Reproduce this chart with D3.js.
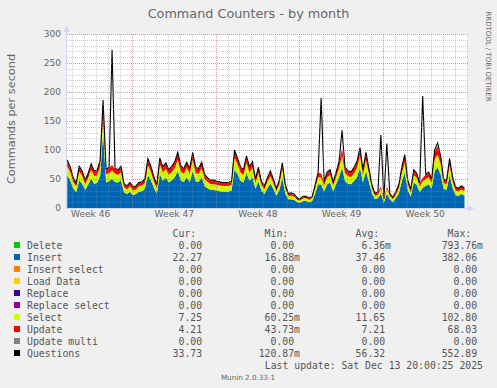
<!DOCTYPE html>
<html>
<head>
<meta charset="utf-8">
<title>Command Counters - by month</title>
<script src="https://cdn.jsdelivr.net/npm/d3@7"></script>
<style>
body { margin: 0; background: #f0f0f0; }
svg { display: block; }
text { font-family: "DejaVu Sans", sans-serif; fill: #666; }
.mono { font-family: "DejaVu Sans Mono", monospace; font-size: 9.8px; fill: #555; }
</style>
</head>
<body>
<svg id="chart" width="497" height="388"></svg>
<script>
// samples every 6 hours, starting Mon Nov 10 2025 14:00
var startTime = Date.UTC(2025, 10, 10, 14);
var stepHours = 6;

var questions = [83,71,52,43,72,64,48,60,76,64, 65,82,186,67,70,273,68,66,72,42,
  38,44,36,38,44,45,50,85,72,54, 40,86,71,78,66,72, 80,96,73,68,79,
  68,96,70,68,79,58,52,48,48,46, 45,44,44,44,46,100,86,71,66,90,
  71,80,50,70,46,38,52,64,50,34, 48,78,40,25,26,24,17,16,20,20,
  17,20,40,62,190,45,62,66,45,62, 80,134,70,64,62,70, 80,104,66,96,68,
  40,25,28,126,16,111,25,18,28,40, 70,92,48,32,66,60,43,193,58,62,
  50,100,112,90,50,48,85,54,36,34, 38,34];

var insertVals = [56,48,34,27,48,42,31,40,51,42, 43,55,130,44,46,50,45,44,48,27,
  24,28,22,24,28,29,33,57,48,35, 25,58,47,52,44,48, 53,64,48,45,53,
  45,64,46,45,53,38,34,31,31,30, 29,28,28,28,30,67,58,47,44,60,
  47,53,33,46,30,24,34,42,33,21, 31,52,25,15,15,14,10,9,12,12,
  10,12,25,41,40,29,41,44,29,41, 53,70,46,42,41,46, 53,70,44,64,45,
  25,15,17,25,9,25,15,10,17,25, 46,61,31,20,44,40,27,35,38,41,
  33,64,70,58,33,31,57,35,22,21, 24,21];

var selectVals = [16,14,11,10,15,13,10,12,15,13, 13,16,30,14,14,15,14,13,14,9,
  8,10,8,8,10,10,10,17,14,11, 9,17,14,16,13,14, 16,19,15,14,16,
  14,19,14,14,16,12,11,10,10,10, 10,10,10,10,10,20,17,14,13,18,
  14,16,10,14,10,8,11,13,10,8, 10,16,9,6,6,6,4,4,5,5,
  4,5,9,12,12,10,12,13,10,12, 16,20,14,13,12,14, 16,20,13,19,14,
  9,6,6,8,4,8,6,5,6,9, 14,18,10,7,13,12,10,11,12,12,
  10,20,22,18,10,10,17,11,8,8, 8,8];

var updateVals = [10,8,6,5,8,8,6,7,9,8, 8,10,20,8,9,9,8,8,9,5,
  5,5,5,5,5,5,6,10,9,7, 5,10,9,9,8,9, 10,12,9,8,9,
  8,12,9,8,9,7,6,6,6,5, 5,5,5,5,5,12,10,9,8,11,
  9,10,6,9,5,5,6,8,6,4, 6,9,5,3,3,3,2,2,2,2,
  2,2,5,8,7,5,8,8,5,8, 10,12,9,8,8,9, 10,12,8,12,8,
  5,3,4,4,2,4,3,2,4,5, 9,11,6,4,8,7,5,6,7,8,
  6,14,14,12,6,6,10,7,5,4, 5,4];

var yTicks = [0, 50, 100, 150, 200, 250, 300];
var weekLabels = ["Week 46", "Week 47", "Week 48", "Week 49", "Week 50"];

var legendNames = ["Delete", "Insert", "Insert select", "Load Data", "Replace",
  "Replace select", "Select", "Update", "Update multi", "Questions"];
var legendColors = ["#00cc00", "#0066b3", "#ff8000", "#ffcc00", "#330099",
  "#990099", "#ccff00", "#ff0000", "#808080", "#000000"];
var curCol = ["0.00", "22.27", "0.00", "0.00", "0.00", "0.00", "7.25", "4.21", "0.00", "33.73"];
var minCol = ["0.00", "16.88m", "0.00", "0.00", "0.00", "0.00", "60.25m", "43.73m", "0.00", "120.87m"];
var avgCol = ["6.36m", "37.46", "0.00", "0.00", "0.00", "0.00", "11.65", "7.21", "0.00", "56.32"];
var maxCol = ["793.76m", "382.06", "0.00", "0.00", "0.00", "0.00", "102.80", "68.03", "0.00", "552.89"];

var svg = d3.select("#chart");

var x = d3.scaleUtc()
  .domain([new Date(Date.UTC(2025, 10, 10, 13, 30)), new Date(Date.UTC(2025, 11, 14, 3, 0))])
  .range([67, 468]);
var y = d3.scaleLinear().domain([0, 300]).range([208, 34]);

var rows = questions.map(function (q, i) {
  return {
    t: new Date(startTime + i * stepHours * 3600 * 1000),
    insert: insertVals[i], select: selectVals[i], update: updateVals[i], questions: q
  };
});

// canvas
svg.append("rect").attr("x", 67).attr("y", 34).attr("width", 401).attr("height", 174).attr("fill", "#fff");

// stacked areas
var keys = ["insert", "select", "update"];
var keyColors = { insert: "#0066b3", select: "#ccff00", update: "#ff0000" };
var stacked = d3.stack().keys(keys)(rows);
var area = d3.area()
  .x(function (d) { return x(d.data.t); })
  .y0(function (d) { return y(d[0]); })
  .y1(function (d) { return y(d[1]); });

svg.append("g").selectAll("path")
  .data(stacked)
  .enter().append("path")
  .attr("d", area)
  .attr("fill", function (d) { return keyColors[d.key]; });

svg.append("path")
  .datum(rows)
  .attr("d", d3.line().x(function (d) { return x(d.t); }).y(function (d) { return y(d.questions); }))
  .attr("fill", "none")
  .attr("stroke", "#000")
  .attr("stroke-width", 1.1);

// grid, drawn over the data like rrdtool
var grid = svg.append("g").attr("shape-rendering", "crispEdges").attr("stroke-dasharray", "1,1");
var lastTime = rows[rows.length - 1].t;
var days = d3.utcDay.range(x.domain()[0], x.domain()[1]);
var weekStarts = d3.utcSunday.range(new Date(Date.UTC(2025, 10, 9)), lastTime);
var sundays = weekStarts.filter(function (d) { return d > x.domain()[0]; });

grid.selectAll(".vmin").data(days).enter().append("line")
  .attr("x1", function (d) { return Math.round(x(d)) + 0.5; })
  .attr("x2", function (d) { return Math.round(x(d)) + 0.5; })
  .attr("y1", 34).attr("y2", 208)
  .attr("stroke", "rgba(143,143,143,0.45)");

grid.selectAll(".hmin").data(y.ticks(30)).enter().append("line")
  .attr("x1", 67).attr("x2", 468)
  .attr("y1", function (d) { return Math.round(y(d)) + 0.5; })
  .attr("y2", function (d) { return Math.round(y(d)) + 0.5; })
  .attr("stroke", "rgba(143,143,143,0.45)");

grid.selectAll(".vmaj").data(sundays).enter().append("line")
  .attr("x1", function (d) { return Math.round(x(d)) + 0.5; })
  .attr("x2", function (d) { return Math.round(x(d)) + 0.5; })
  .attr("y1", 34).attr("y2", 208)
  .attr("stroke", "rgba(222,79,79,0.4)");

grid.selectAll(".hmaj").data(yTicks.slice(1)).enter().append("line")
  .attr("x1", 67).attr("x2", 468)
  .attr("y1", function (d) { return Math.round(y(d)) + 0.5; })
  .attr("y2", function (d) { return Math.round(y(d)) + 0.5; })
  .attr("stroke", "rgba(222,79,79,0.4)");

// axes lines and arrows
svg.append("line").attr("x1", 66.5).attr("x2", 66.5).attr("y1", 30).attr("y2", 208.5)
  .attr("stroke", "#cfd6f8");
svg.append("line").attr("x1", 66).attr("x2", 470).attr("y1", 208.5).attr("y2", 208.5)
  .attr("stroke", "#cfd6f8");
svg.append("path").attr("d", "M66.5,26L63.5,32L69.5,32Z").attr("fill", "#cfd6f8");
svg.append("path").attr("d", "M474,208.5L468,205.5L468,211.5Z").attr("fill", "#cfd6f8");

// tick labels
var yAxis = svg.append("g").attr("transform", "translate(61,0)")
  .call(d3.axisLeft(y).tickValues(yTicks).tickSize(0).tickPadding(0));
yAxis.select(".domain").remove();
yAxis.selectAll("text").attr("fill", "#666").style("font-family", "DejaVu Sans").style("font-size", "9px");

// labels sit in the middle of each week
var weekCenters = weekStarts.map(function (d) { return d3.utcHour.offset(d, 84); });
var xAxis = svg.append("g").attr("transform", "translate(0,211)")
  .call(d3.axisBottom(x).tickValues(weekCenters).tickSize(0).tickPadding(0)
    .tickFormat(function (d, i) { return weekLabels[i]; }));
xAxis.select(".domain").remove();
xAxis.selectAll("text").attr("fill", "#666").style("font-family", "DejaVu Sans").style("font-size", "9.1px");

// title and labels
svg.append("text").attr("x", 248.5).attr("y", 18).attr("text-anchor", "middle")
  .style("font-size", "12.8px").attr("fill", "#555").text("Command Counters - by month");
svg.append("text").attr("transform", "translate(15,119) rotate(-90)").attr("text-anchor", "middle")
  .style("font-size", "11.3px").text("Commands per second");
svg.append("text").attr("transform", "translate(485.5,56.5) rotate(90)").attr("text-anchor", "middle")
  .style("font-size", "7px").attr("fill", "#c0c0c0").text("RRDTOOL / TOBI OETIKER");

// legend
var cw = 0.602 * 9.8;
var edges = [208, 300, 391, 483];
var headers = ["Cur:", "Min:", "Avg:", "Max:"];
headers.forEach(function (h, j) {
  svg.append("text").attr("class", "mono").attr("x", edges[j] - 2 * cw).attr("y", 236.5)
    .attr("text-anchor", "end").text(h);
});
var cols = [curCol, minCol, avgCol, maxCol];
legendNames.forEach(function (name, i) {
  var yy = 248.5 + i * 12;
  svg.append("rect").attr("x", 14).attr("y", yy - 6.5).attr("width", 6).attr("height", 6)
    .attr("fill", legendColors[i]);
  svg.append("text").attr("class", "mono").attr("x", 27).attr("y", yy).text(name);
  cols.forEach(function (col, j) {
    var s = col[i];
    svg.append("text").attr("class", "mono")
      .attr("x", edges[j] - (s.endsWith("m") ? 0 : cw)).attr("y", yy)
      .attr("text-anchor", "end").text(s);
  });
});
svg.append("text").attr("class", "mono").attr("x", 483).attr("y", 368.5).attr("text-anchor", "end")
  .text("Last update: Sat Dec 13 20:00:25 2025");
svg.append("text").attr("x", 248).attr("y", 380).attr("text-anchor", "middle")
  .style("font-size", "7.2px").attr("fill", "#bbb").text("Munin 2.0.33-1");
</script>
</body>
</html>
